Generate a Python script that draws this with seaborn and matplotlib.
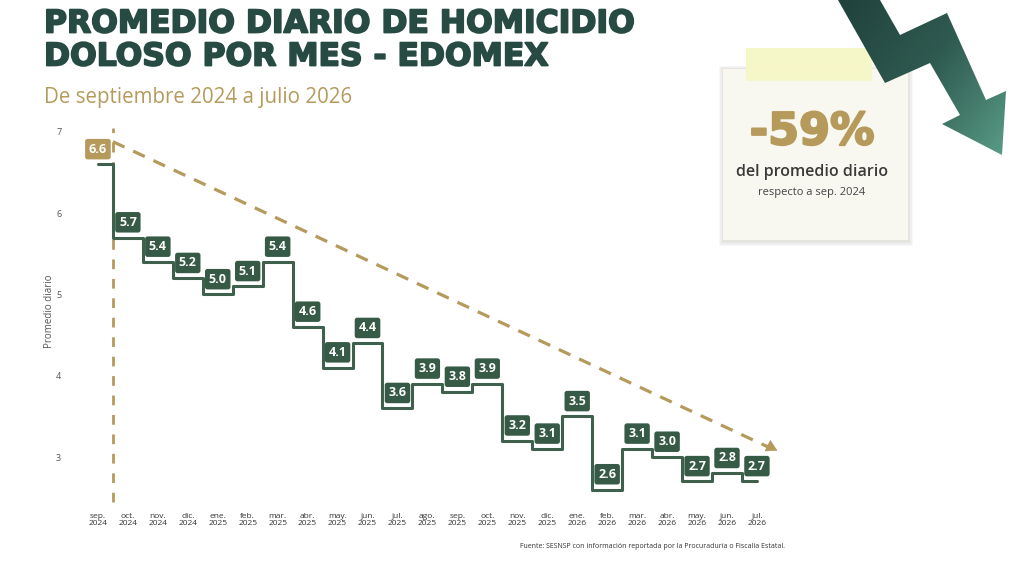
import numpy as np
import pandas as pd
import seaborn as sns
import matplotlib.pyplot as plt
import matplotlib.patheffects as pe
from matplotlib.patches import Polygon, Rectangle
from matplotlib.colors import LinearSegmentedColormap

# datos
meses = ['sep.', 'oct.', 'nov.', 'dic.', 'ene.', 'feb.', 'mar.', 'abr.', 'may.', 'jun.', 'jul.', 'ago.',
         'sep.', 'oct.', 'nov.', 'dic.', 'ene.', 'feb.', 'mar.', 'abr.', 'may.', 'jun.', 'jul.']
anios = ['2024'] * 4 + ['2025'] * 12 + ['2026'] * 7
promedio = [6.6, 5.7, 5.4, 5.2, 5.0, 5.1, 5.4, 4.6, 4.1, 4.4, 3.6, 3.9,
            3.8, 3.9, 3.2, 3.1, 3.5, 2.6, 3.1, 3.0, 2.7, 2.8, 2.7]
tendencia = [6.88, 3.08]  # inicio y fin de la flecha punteada
yticks = [3, 4, 5, 6, 7]

verde = '#3f604c'
verde_caja = '#365a45'
dorado = '#b59a5c'
titulo_color = '#274b43'

sns.set_theme(style='white')
plt.rcParams['font.family'] = ['Open Sans', 'DejaVu Sans']

df = pd.DataFrame({'idx': np.arange(len(promedio)), 'valor': promedio})

fig = plt.figure(figsize=(10.24, 5.67), dpi=100)
fig.patch.set_facecolor('white')

ax = fig.add_axes([0.0693, 0.108, 0.705, 0.688])
ax.patch.set_visible(False)
sns.lineplot(data=df, x='idx', y='valor', ax=ax, color=verde, lw=2.2,
             drawstyle='steps-mid', zorder=3)

for i, v in enumerate(promedio):
    fc = dorado if i == 0 else verde_caja
    ax.annotate(f'{v:.1f}', (i, v), xytext=(0, 11), textcoords='offset points',
                ha='center', va='center', color='white', fontsize=9, fontweight='bold',
                bbox=dict(boxstyle='round,pad=0.3,rounding_size=0.2', fc=fc, ec='none'),
                zorder=5)

# linea de tendencia
ax.plot([0.5, 22.45], [tendencia[0], tendencia[1] + 0.03], color=dorado, lw=2.3,
        dashes=(4, 3), zorder=2, solid_capstyle='butt')
ax.annotate('', xy=(22.68, tendencia[1]), xytext=(22.3, tendencia[1] + 0.07),
            arrowprops=dict(arrowstyle='-|>,head_length=0.6,head_width=0.35',
                            color=dorado, lw=0.5, shrinkA=0, shrinkB=0), zorder=2)
ax.plot([0.5, 0.5], [2.45, 7.05], color=dorado, lw=2.0, dashes=(3.5, 3.5), zorder=2)

ax.set_xlim(-0.9, 23.2)
ax.set_ylim(2.4, 7.2)
ax.set_xticks(range(len(meses)))
ax.set_xticklabels([f'{m}\n{a}' for m, a in zip(meses, anios)], fontsize=6,
                   color='#333333', linespacing=1.0)
ax.set_yticks(yticks)
ax.set_yticklabels([str(t) for t in yticks], fontsize=6.5, color='#555555')
ax.tick_params(axis='x', length=0, pad=5)
ax.tick_params(axis='y', length=0, pad=7)
ax.set_xlabel('')
ax.set_ylabel('Promedio diario', fontsize=7, color='#555555', labelpad=1)
sns.despine(ax=ax, left=True, bottom=True)

# capa en pixeles para textos y adornos
ov = fig.add_axes([0, 0, 1, 1], zorder=5)
ov.set_xlim(0, 1024)
ov.set_ylim(567, 0)
ov.axis('off')
ov.patch.set_visible(False)

grueso = [pe.withStroke(linewidth=1.3, foreground=titulo_color)]
ov.text(44, 24, 'PROMEDIO DIARIO DE HOMICIDIO', fontsize=22.6, fontweight='heavy',
        family=['DejaVu Sans'], color=titulo_color, va='center', ha='left',
        path_effects=grueso)
ov.text(44, 57, 'DOLOSO POR MES - EDOMEX', fontsize=22.6, fontweight='heavy',
        family=['DejaVu Sans'], color=titulo_color, va='center', ha='left',
        path_effects=grueso)
ov.text(44, 98, 'De septiembre 2024 a julio 2026', fontsize=14.8, color=dorado,
        va='center', ha='left')

ov.text(652, 546, 'Fuente: SESNSP con información reportada por la Procuraduría o Fiscalía Estatal.',
        fontsize=5, color='#333333', ha='center', va='center')

# tarjeta
for k, a in enumerate([0.04, 0.05, 0.07]):
    d = 4 - k * 1.3
    ov.add_patch(Rectangle((722 - d + 1, 68 - d + 2), 186 + 2 * d, 172 + 2 * d,
                           fc='#555555', ec='none', alpha=a, zorder=1))
ov.add_patch(Rectangle((722, 68), 186, 172, fc='#f9f8f0', ec='#e4e2d8', lw=0.6, zorder=2))
ov.add_patch(Rectangle((746, 48), 126, 33, fc='#f6f7c6', ec='none', alpha=0.95, zorder=3))

ov.text(812, 132, '-59%', fontsize=32, fontweight='heavy', family=['DejaVu Sans'],
        color=dorado, ha='center', va='center', zorder=4,
        path_effects=[pe.withStroke(linewidth=1.5, foreground=dorado)])
ov.text(812, 172, 'del promedio diario', fontsize=11.5, fontweight='semibold',
        color='#3a3a3a', ha='center', va='center', zorder=4)
ov.text(812, 192, 'respecto a sep. 2024', fontsize=8, color='#444444',
        ha='center', va='center', zorder=4)

# flecha en zigzag
pts = [(838, 0), (885, 83), (930, 63), (960, 115), (942, 124), (1002, 155),
       (1006, 91), (986, 100), (947, 13), (900, 35), (880, 0)]
poly = Polygon(pts, closed=True, fc='none', ec='none', zorder=5)
ov.add_patch(poly)
gx, gy = np.meshgrid(np.linspace(0, 1, 200), np.linspace(0, 1, 200))
grad = (gx * 0.6 + gy * 0.4)
cmap = LinearSegmentedColormap.from_list('flecha', ['#1f403b', '#2f5a50', '#5b9f89'])
img = ov.imshow(grad, cmap=cmap, extent=(830, 1010, 160, 0), aspect='auto', zorder=5)
img.set_clip_path(poly)
ov.set_xlim(0, 1024)
ov.set_ylim(567, 0)

fig.savefig('out.png', dpi=100, facecolor='white')
